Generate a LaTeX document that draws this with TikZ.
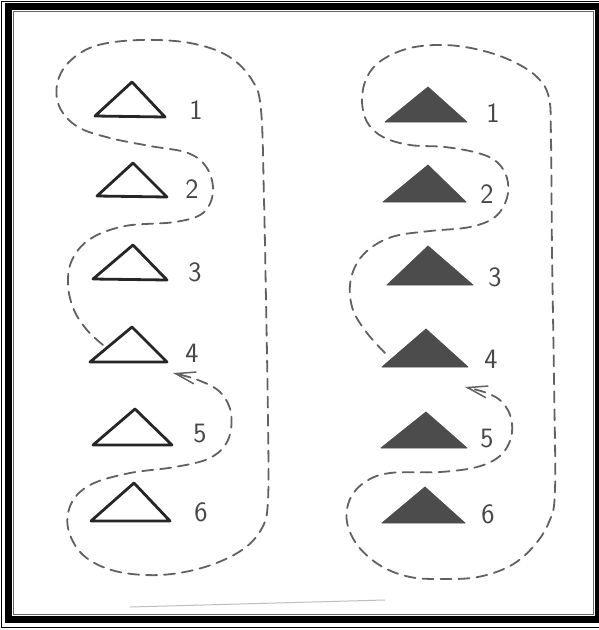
\documentclass[tikz,border=0pt]{standalone}
\usetikzlibrary{arrows.meta}
\begin{document}
\begin{tikzpicture}[x=1pt,y=-1pt,
  hollowtri/.style={draw=black!85,line width=2.8pt,line join=round,fill=white},
  filledtri/.style={fill=black!70,draw=black!70,line width=0.8pt,line join=round},
  num/.style={font=\sffamily\fontsize{28}{28}\selectfont,text=black!72,inner sep=0pt},
  trail/.style={draw=black!62,line width=1.8pt,dash pattern=on 11pt off 7pt,line cap=round},
  arrowend/.style={-{Straight Barb[length=20pt,width=12pt,line width=1.5pt]}}
]
\useasboundingbox (0,0) rectangle (599,630);
\fill[white] (0,0) rectangle (599,630);
% frame
\draw[black,line width=7pt] (8,6.5) rectangle (598.5,619);
\draw[black,line width=1pt] (1.5,1) rectangle (610,627);
\draw[black!60,line width=0.8pt] (13,11.5) rectangle (593.5,614);
% faint scan line
\draw[black!25,line width=1pt] (130,607) -- (385,600);

% left column: hollow triangles
\draw[hollowtri] (95,116) -- (132,82) -- (165,117) -- cycle;
\draw[hollowtri] (97,196) -- (133,163) -- (167,197) -- cycle;
\draw[hollowtri] (93,279) -- (133,245) -- (167,280) -- cycle;
\draw[hollowtri] (90,362) -- (132,327) -- (167,362) -- cycle;
\draw[hollowtri] (93,445) -- (135,409) -- (172,445) -- cycle;
\draw[hollowtri] (91,521) -- (134,483) -- (170,521) -- cycle;
\node[num] (l1) at (196,110) {1};
\node[num] (l2) at (192,189) {2};
\node[num] (l3) at (195,272) {3};
\node[num] (l4) at (192,353) {4};
\node[num] (l5) at (200,434) {5};
\node[num] (l6) at (201,512) {6};

% right column: filled triangles
\draw[filledtri] (385,122) -- (428,87) -- (467,122) -- cycle;
\draw[filledtri] (383,202) -- (428,165) -- (466,202) -- cycle;
\draw[filledtri] (387,285) -- (428,246) -- (473,285) -- cycle;
\draw[filledtri] (382,367) -- (426,329) -- (468,367) -- cycle;
\draw[filledtri] (381,448) -- (426,412) -- (467,448) -- cycle;
\draw[filledtri] (382,523) -- (425,487) -- (465,523) -- cycle;
\node[num] (r1) at (493,113) {1};
\node[num] (r2) at (487,194) {2};
\node[num] (r3) at (495,277) {3};
\node[num] (r4) at (491,359) {4};
\node[num] (r5) at (487,439) {5};
\node[num] (r6) at (488,514) {6};

% trails
\coordinate (Lstart) at (103,345);
\coordinate (Lend) at (173,373);
\coordinate (Rstart) at (385,353);
\coordinate (Rend) at (465,387);

\draw[trail,arrowend] plot[smooth,tension=0.6] coordinates {(Lstart) (87,330) (74,310) (68,285) (72,260) (90,239) (125,226) (175,222) (203,213) (213,192) (207,168) (188,153) (150,146) (110,138) (78,127) (60,108) (57,85) (68,63) (95,46) (140,40) (190,43) (228,56) (252,80) (261,110) (264,200) (266,300) (268,420) (268,500) (262,528) (242,550) (205,567) (160,575) (115,571) (83,555) (68,528) (72,502) (92,484) (130,473) (175,467) (210,458) (228,440) (231,413) (220,392) (198,380) (Lend)};

\draw[trail,arrowend] plot[smooth,tension=0.6] coordinates {(Rstart) (367,333) (353,310) (350,285) (357,263) (372,247) (395,236) (430,231) (470,227) (495,217) (507,198) (507,178) (497,162) (478,153) (445,147) (410,145) (383,137) (367,122) (362,100) (367,77) (382,60) (410,48) (445,45) (480,50) (512,61) (537,77) (549,98) (551,140) (552,250) (554,380) (555,490) (549,522) (533,547) (510,566) (478,577) (443,579) (410,577) (381,566) (358,546) (347,522) (350,499) (365,482) (390,473) (440,472) (477,467) (500,456) (511,438) (511,418) (502,402) (487,393) (Rend)};
\end{tikzpicture}
\end{document}
